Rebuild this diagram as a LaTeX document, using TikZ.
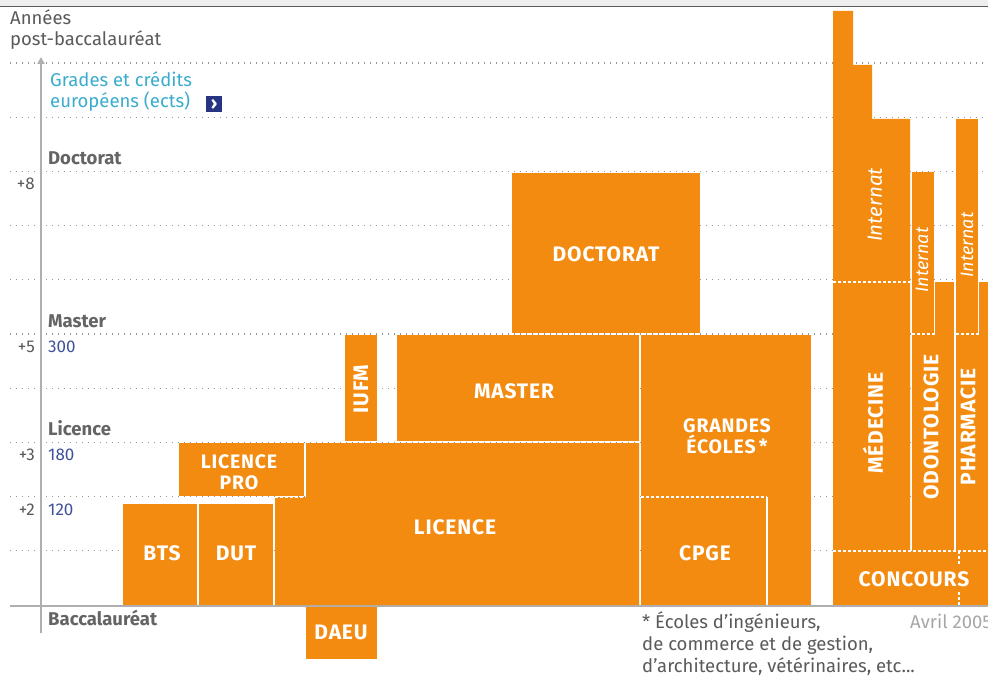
\documentclass[tikz,border=0pt]{standalone}
\usepackage{fontspec}
\setmainfont{Fira Sans}
\usetikzlibrary{arrows.meta}
\definecolor{orng}{RGB}{243,139,17}
\definecolor{txtgray}{RGB}{90,90,90}
\definecolor{lblgray}{RGB}{100,100,100}
\definecolor{numblue}{RGB}{65,80,155}
\definecolor{cyanT}{RGB}{58,172,205}
\definecolor{boxblue}{RGB}{38,52,130}
\definecolor{gridgray}{RGB}{150,150,150}
\definecolor{axisgray}{RGB}{175,175,175}
\definecolor{topband}{RGB}{238,238,238}
\newcommand{\bfnt}[1]{\fontsize{#1}{#1}\selectfont\bfseries\addfontfeatures{LetterSpace=4}}
\begin{document}
\begin{tikzpicture}[x=1pt,y=-1pt,
  blk/.style={fill=orng},
  wsol/.style={draw=white,line width=1.3pt},
  wdash/.style={draw=white,line width=1.3pt,dash pattern=on 3pt off 2pt},
  gridl/.style={draw=gridgray,line width=1.1pt,dash pattern=on 1.2pt off 4.8pt},
  blab/.style={text=white,font=\bfnt{21},align=center,inner sep=0pt},
  ilab/.style={text=white,font=\fontsize{20.5}{20}\selectfont\itshape,inner sep=0pt,rotate=90},
  glab/.style={text=txtgray,font=\fontsize{18.5}{21.5}\selectfont,inner sep=0pt,anchor=base west,align=left},
  hlab/.style={text=lblgray,font=\fontsize{18.5}{20}\selectfont\bfseries,inner sep=0pt,anchor=base west},
  ylab/.style={text=txtgray,font=\fontsize{17}{20}\selectfont,inner sep=0pt,anchor=base east},
  clab/.style={text=numblue,font=\fontsize{17}{20}\selectfont,inner sep=0pt,anchor=base west}]
\useasboundingbox (0,0) rectangle (988,679);
\fill[white] (0,0) rectangle (988,679);
% top band
\fill[topband] (0,0) rectangle (988,6.5);
\draw[gray!70!black,line width=1pt] (0,7) -- (988,7);

% grid lines
\foreach \n in {1,...,10}{
  \draw[gridl] (10,{605-54.2*\n}) -- (37,{605-54.2*\n});
  \draw[gridl] (46,{605-54.2*\n}) -- (988,{605-54.2*\n});
}
% baseline and axis
\coordinate (bl0) at (10,606);
\coordinate (bl1) at (988,606);
\draw[axisgray,line width=1.5pt] (bl0) -- (bl1);
\coordinate (axbot) at (41,633);
\coordinate (axtop) at (41,57);
\draw[axisgray,line width=2pt,-{Triangle[length=7pt,width=7pt]}] (axbot) -- (axtop);

% left labels
\node[glab] (annees) at (10,46) {Années\\post-baccalauréat};
\node[glab,text=cyanT] (grades) at (50,108) {Grades et crédits\\européens (ects)};
\node[fill=boxblue,minimum size=16pt,inner sep=0pt,text=white,font=\bfseries\fontsize{18}{18}\selectfont] (more) at (214,104) {›};
\node[hlab] (ldoct) at (48,165) {Doctorat};
\node[hlab] (lmast) at (48,327) {Master};
\node[hlab] (llic) at (48,435) {Licence};
\node[hlab] (lbac) at (48,625) {Baccalauréat};
\node[ylab] (p8) at (35,190) {+8};
\node[ylab] (p5) at (35,352) {+5};
\node[ylab] (p3) at (35,460) {+3};
\node[ylab] (p2) at (35,515) {+2};
\node[clab] (c300) at (48,352) {300};
\node[clab] (c180) at (48,460) {180};
\node[clab] (c120) at (48,515) {120};

% blocks
\fill[blk] (123,504) rectangle (197,605);
\fill[blk] (199,504) rectangle (273,605);
\fill[blk] (179,443) rectangle (304,496);
\fill[blk] (275,605) -- (275,497) -- (306,497) -- (306,443) -- (639,443) -- (639,605) -- cycle;
\draw[wdash] (275,497) -- (305,497);
\fill[blk] (306,607) rectangle (377,659);
\fill[blk] (345,335) rectangle (377,441);
\fill[blk] (397,335) rectangle (639,441);
\fill[blk] (512,173) rectangle (700,333);
\fill[blk] (641,335) rectangle (811,605);
\draw[wdash] (641,497) -- (767,497);
\draw[wsol] (767,497) -- (767,605);

% medicine etc.
\fill[blk] (833,552) -- (833,11) -- (853,11) -- (853,65) -- (872,65) -- (872,119) -- (910,119) -- (910,552) -- cycle;
\draw[wdash] (833,282) -- (910,282);
\fill[blk] (912,282) rectangle (954,552);
\fill[blk] (912,172) rectangle (934,334);
\draw[wsol] (934.6,282) -- (934.6,334);
\draw[wdash] (912,334) -- (934.6,334);
\fill[blk] (956,282) rectangle (995,552);
\fill[blk] (956,119) rectangle (978,334);
\draw[wsol] (978.6,282) -- (978.6,334);
\draw[wdash] (956,334) -- (978.6,334);
\fill[blk] (833,551) rectangle (995,605);
\draw[wdash] (833,551) -- (995,551);
\draw[wdash] (959,551) -- (959,564);
\draw[wdash] (959,592) -- (959,605);

% block labels
\node[blab] (doct) at (606,254) {DOCTORAT};
\node[blab] (mast) at (514,391) {MASTER};
\node[blab] (lic) at (455,527) {LICENCE};
\node[blab,font=\bfnt{19.5}] (licpro) at (239,472) {LICENCE\\[1pt]PRO};
\node[blab] (bts) at (162,553) {BTS};
\node[blab] (dut) at (236,553) {DUT};
\node[blab] (daeu) at (341,632) {DAEU};
\node[blab,rotate=90] (iufm) at (361,389) {IUFM};
\node[blab,font=\bfnt{19.5}] (ge) at (727,436) {GRANDES\\[1pt]ÉCOLES\,*};
\node[blab] (cpge) at (705,553) {CPGE};
\node[ilab] (intm) at (875,205) {Internat};
\node[ilab,font=\fontsize{18}{18}\selectfont\itshape] (into) at (922,260) {Internat};
\node[ilab,font=\fontsize{18}{18}\selectfont\itshape] (intp) at (967,245) {Internat};
\node[blab,rotate=90] (med) at (873,423) {MÉDECINE};
\node[blab,rotate=90] (odo) at (931,427) {ODONTOLOGIE};
\node[blab,rotate=90] (pha) at (968,427) {PHARMACIE};
\node[blab] (conc) at (914,579) {CONCOURS};

% footnote
\node[glab,text=txtgray,font=\fontsize{18.5}{22}\selectfont] (foot) at (642,672) {* Écoles d'ingénieurs,\\de commerce et de gestion,\\d'architecture, vétérinaires, etc...};
\node[glab,text=gray!70,font=\fontsize{18.5}{22}\selectfont] (date) at (910,628) {Avril 2005};
\end{tikzpicture}
\end{document}
